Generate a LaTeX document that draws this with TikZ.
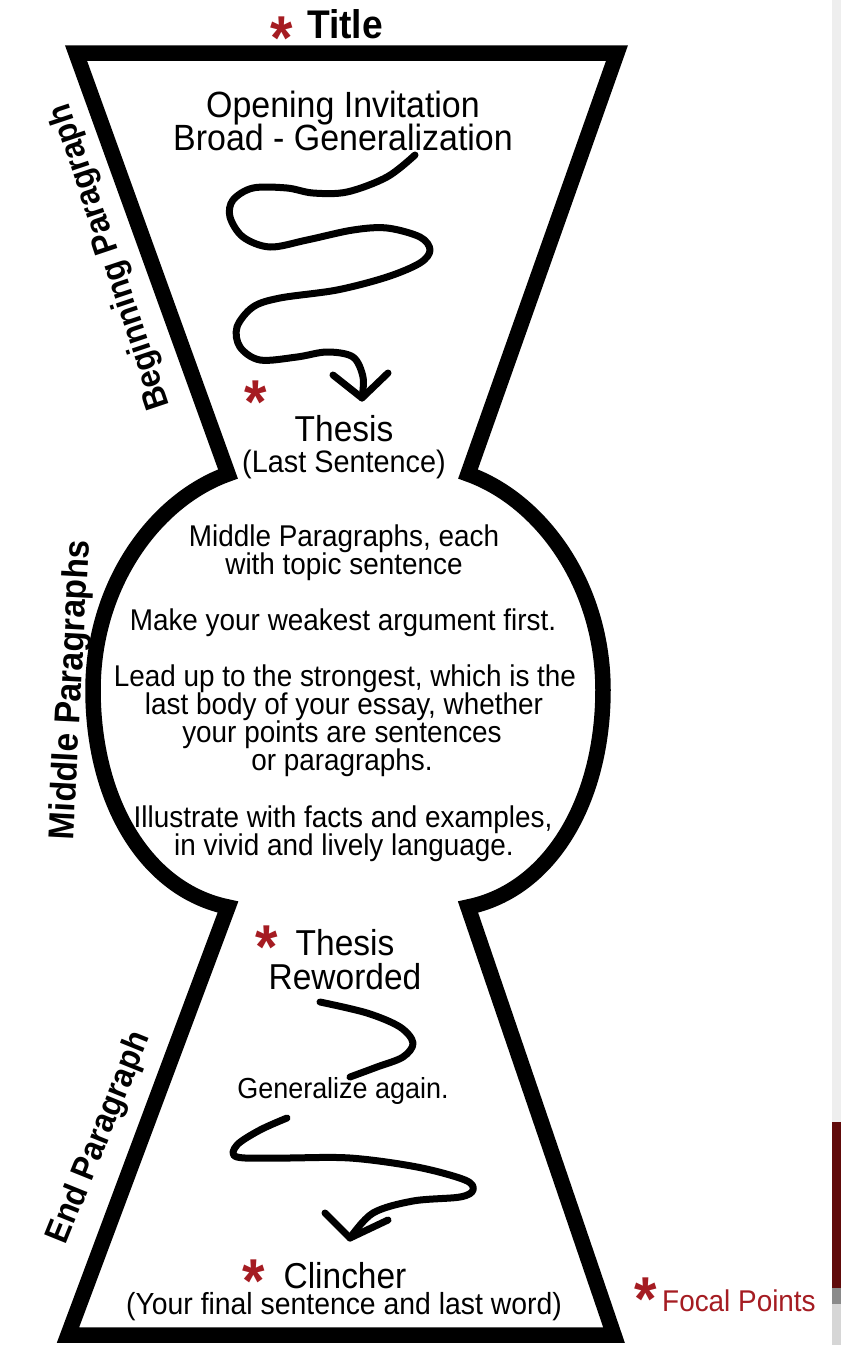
\documentclass[tikz,border=0pt]{standalone}
\usepackage{fontspec}
\setmainfont{Liberation Sans}[FakeStretch=0.93]
\definecolor{focal}{RGB}{165,28,34}
\definecolor{stripred}{RGB}{96,10,10}
\definecolor{midgrey}{RGB}{138,138,138}
\definecolor{lightgrey}{RGB}{214,214,214}
\definecolor{palegrey}{RGB}{238,238,238}
\newcommand\setfs[1]{\fontsize{#1}{#1}\selectfont}
\begin{document}
\begin{tikzpicture}[x=1pt,y=1pt,
  txt/.style={inner sep=0pt, anchor=base},
  bigtxt/.style={txt, font=\setfs{36.5}},
  subtxt/.style={txt, font=\setfs{30.5}},
  midtxt/.style={txt, font=\setfs{30}},
  starmark/.style={inner sep=0pt, anchor=north, text=focal, font=\setfs{62}\bfseries},
  sidelbl/.style={inner sep=0pt, font=\setfs{34}\bfseries},
  outline/.style={line width=15.5pt, line join=miter, miter limit=20},
  squig/.style={line width=7pt, line cap=round, line join=round}]
\fill[white] (0,0) rectangle (841,-1345);
\useasboundingbox (0,0) rectangle (841,-1345);
% right edge strip
\fill[palegrey] (832,0) rectangle (841,-1122);
\fill[stripred] (832,-1122) rectangle (841,-1288);
\fill[midgrey] (832,-1288) rectangle (841,-1304);
\fill[lightgrey] (832,-1304) rectangle (841,-1345);
% hourglass outline
\coordinate (tl) at (76,-53);
\coordinate (tr) at (617,-53);
\coordinate (ntr) at (468,-474);
\coordinate (nbr) at (468,-907);
\coordinate (br) at (614,-1335);
\coordinate (bl) at (68,-1335);
\coordinate (nbl) at (228,-907);
\coordinate (ntl) at (228,-474);
\draw[outline]
  (tl) -- (tr) -- (ntr)
  .. controls (541,-500) and (603,-585) .. (603,-690)
  .. controls (603,-800) and (551,-890) .. (nbr)
  -- (br) -- (bl) -- (nbl)
  .. controls (145,-890) and (93,-800) .. (93,-690)
  .. controls (93,-585) and (155,-500) .. (ntl)
  -- cycle;
% title
\node[txt, font=\setfs{40}\bfseries] (title) at (345,-38) {Title};
\node[starmark] (s0) at (282,-17) {*};
% beginning
\node[bigtxt] (open1) at (343,-117) {Opening Invitation};
\node[bigtxt] (open2) at (343,-150) {Broad - Generalization};
\node[starmark] (s1) at (256,-381) {*};
\node[txt, font=\setfs{36}] (thesis1) at (344,-441) {Thesis};
\node[txt, font=\setfs{31}] (last) at (344,-472) {(Last Sentence)};
% middle
\node[midtxt] (m1) at (344,-546) {Middle Paragraphs, each};
\node[midtxt] (m2) at (344,-574) {with topic sentence};
\node[midtxt] (m3) at (343,-630) {Make your weakest argument first.};
\node[midtxt] (m4) at (345,-686) {Lead up to the strongest, which is the};
\node[midtxt] (m5) at (344,-714) {last body of your essay, whether};
\node[midtxt] (m6) at (342,-742) {your points are sentences};
\node[midtxt] (m7) at (342,-770) {or paragraphs.};
\node[midtxt] (m8) at (343,-827) {Illustrate with facts and examples,};
\node[midtxt] (m9) at (344,-855) {in vivid and lively language.};
% end
\node[starmark] (s2) at (267,-926) {*};
\node[txt, font=\setfs{36}] (thesis2) at (345,-955) {Thesis};
\node[txt, font=\setfs{36}] (reworded) at (345,-989) {Reworded};
\node[txt, font=\setfs{29}] (again) at (343,-1098) {Generalize again.};
\node[starmark] (s3) at (254,-1260) {*};
\node[txt, font=\setfs{36}] (clincher) at (345,-1288) {Clincher};
\node[subtxt] (final) at (344,-1314) {(Your final sentence and last word)};
% legend
\node[starmark] (s4) at (646,-1278) {*};
\node[txt, anchor=base west, text=focal, font=\setfs{30}] (focal) at (662,-1311) {Focal Points};
% side labels
\node[sidelbl, rotate=108.5] (beg) at (111,-257) {Beginning Paragraph};
\node[sidelbl, font=\setfs{36}\bfseries, rotate=87] (mid) at (72,-690) {Middle Paragraphs};
\node[sidelbl, rotate=68] (endp) at (100,-1138) {End Paragraph};
% squiggle arrows
\coordinate (q1s) at (415,-155);
\coordinate (q1e) at (362,-398);
\draw[squig] plot[smooth, tension=0.55] coordinates {
  (q1s) (387,-177) (347,-192) (313,-193) (287,-188) (253,-188)
  (233,-200) (230,-217) (243,-237) (270,-247) (307,-240) (353,-230)
  (387,-228) (420,-237) (430,-250) (420,-263) (387,-277) (337,-290)
  (280,-298) (253,-307) (237,-327) (240,-347) (260,-360) (297,-357)
  (327,-352) (353,-357) (363,-377) (q1e)};
\draw[squig] (333,-375) -- (q1e) -- (388,-373);
\draw[squig] plot[smooth, tension=0.55] coordinates {
  (320,-1002) (367,-1013) (400,-1027) (413,-1043) (403,-1057) (377,-1067) (350,-1077)};
\coordinate (q3e) at (350,-1238);
\draw[squig] plot[smooth, tension=0.55] coordinates {
  (287,-1118) (260,-1130) (237,-1145) (237,-1157) (283,-1158) (350,-1158)
  (417,-1167) (465,-1180) (473,-1190) (460,-1197) (413,-1201) (373,-1213) (q3e)};
\draw[squig] (325,-1213) -- (q3e) -- (388,-1220);
\end{tikzpicture}
\end{document}
